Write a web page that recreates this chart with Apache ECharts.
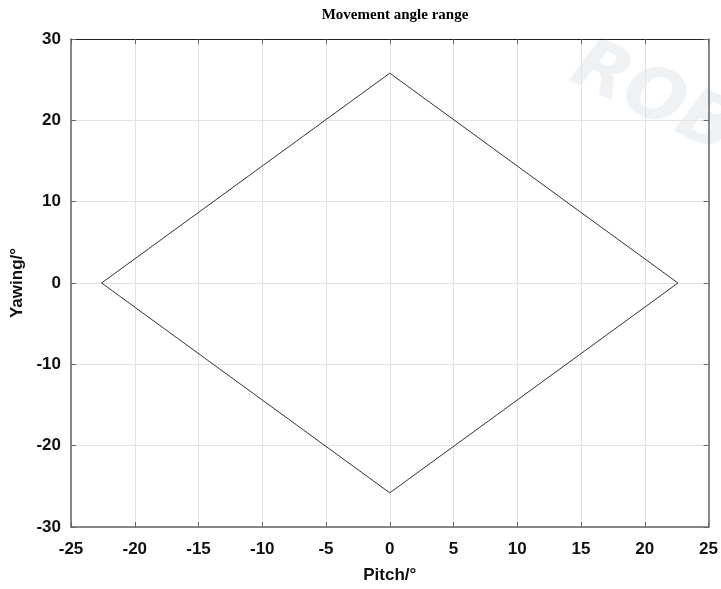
<!DOCTYPE html>
<html><head><meta charset="utf-8">
<script src="https://cdn.jsdelivr.net/npm/echarts@6/dist/echarts.min.js"></script>
<style>html,body{margin:0;padding:0;background:#fff}#c{width:721px;height:589px}</style>
</head><body><div id="c"></div>
<script>
const titleText = 'Movement angle range';
const xName = 'Pitch/°';
const yName = 'Yawing/°';
const pitch = [-22.6, 0, 22.6, 0, -22.6];
const yawing = [0, 25.8, 0, -25.8, 0];

const chart = echarts.init(document.getElementById('c'));
const labelFont = {fontFamily: 'Liberation Sans', fontWeight: 'bold', fontSize: 17, color: '#111'};
chart.setOption({
  backgroundColor: '#fff',
  animation: false,
  title: {text: titleText, left: 390, top: 3, textAlign: 'center',
    textStyle: {fontFamily: 'Liberation Serif', fontWeight: 'bold', fontSize: 15, color: '#000'}},
  graphic: [{type: 'text', left: 560, top: 30, rotation: -0.45, silent: true, z: -1,
    style: {text: 'ROBOT', fontFamily: 'DejaVu Sans', fontWeight: 'bold', fontStyle: 'italic', fontSize: 72, fill: 'rgba(190,205,215,0.25)'}}],
  grid: {left: 71, right: 10, top: 39, bottom: 60},
  xAxis: [{
    type: 'value', min: -25, max: 25, interval: 5, position: 'bottom',
    name: xName, nameLocation: 'middle', nameGap: 40,
    nameTextStyle: {fontFamily: 'Liberation Sans', fontWeight: 'bold', fontSize: 17, color: '#111'},
    axisLine: {show: true, onZero: false, lineStyle: {color: '#666', width: 1.5}},
    axisTick: {show: true, inside: true, length: 5, lineStyle: {color: '#666'}},
    axisLabel: Object.assign({margin: 14}, labelFont),
    splitLine: {show: true, lineStyle: {color: '#e2e2e2', width: 1}}
  }, {
    type: 'value', min: -25, max: 25, interval: 5, position: 'top',
    axisLine: {show: true, onZero: false, lineStyle: {color: '#222', width: 1.2}},
    axisTick: {show: true, inside: true, length: 5, lineStyle: {color: '#666'}},
    axisLabel: {show: false}, splitLine: {show: false}
  }],
  yAxis: [{
    type: 'value', min: -30, max: 30, interval: 10, position: 'left',
    name: yName, nameLocation: 'middle', nameGap: 42, nameRotate: 90,
    nameTextStyle: {fontFamily: 'Liberation Sans', fontWeight: 'bold', fontSize: 17, color: '#111'},
    axisLine: {show: true, onZero: false, lineStyle: {color: '#666', width: 1.5}},
    axisTick: {show: true, inside: true, length: 5, lineStyle: {color: '#666'}},
    axisLabel: Object.assign({margin: 10}, labelFont),
    splitLine: {show: true, lineStyle: {color: '#e2e2e2', width: 1}}
  }, {
    type: 'value', min: -30, max: 30, interval: 10, position: 'right',
    axisLine: {show: true, onZero: false, lineStyle: {color: '#666', width: 1.5}},
    axisTick: {show: true, inside: true, length: 5, lineStyle: {color: '#666'}},
    axisLabel: {show: false}, splitLine: {show: false}
  }],
  series: [{
    type: 'line', xAxisIndex: 0, yAxisIndex: 0,
    data: pitch.map((p, i) => [p, yawing[i]]),
    showSymbol: false, symbol: 'none',
    lineStyle: {color: '#333', width: 1}
  }]
});
</script></body></html>
